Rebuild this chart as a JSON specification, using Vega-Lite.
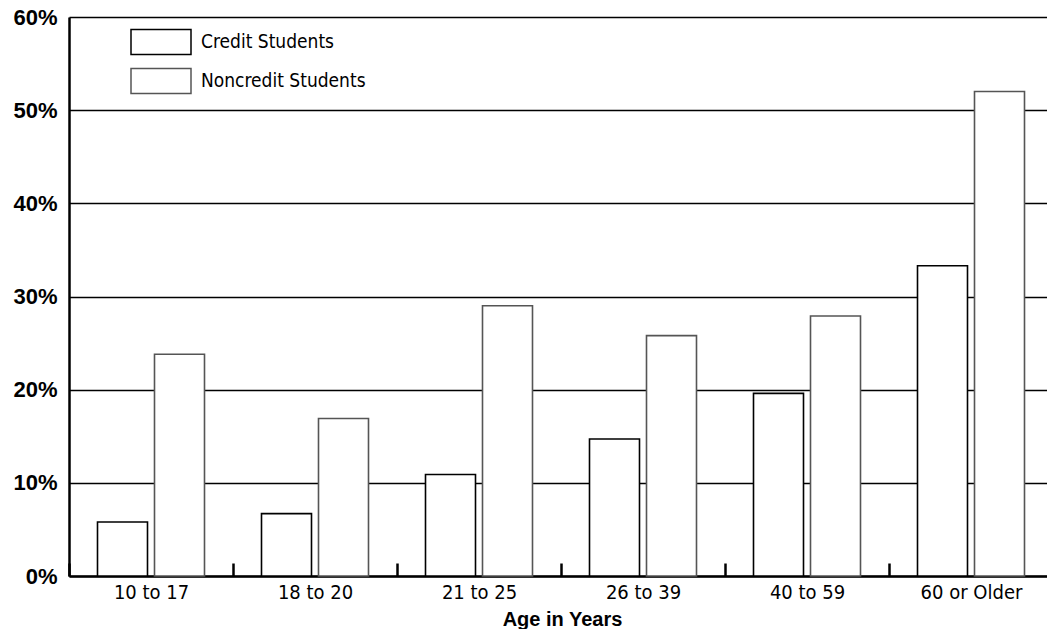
{
  "$schema": "https://vega.github.io/schema/vega-lite/v6.json",
  "width": 978,
  "height": 559,
  "autosize": {"type": "none"},
  "padding": {"left": 69, "top": 17, "right": 0, "bottom": 53},
  "background": "white",
  "data": {
    "values": [
      {"age": "10 to 17", "series": "Credit Students", "pct": 5.8},
      {"age": "10 to 17", "series": "Noncredit Students", "pct": 23.8},
      {"age": "18 to 20", "series": "Credit Students", "pct": 6.7},
      {"age": "18 to 20", "series": "Noncredit Students", "pct": 16.9},
      {"age": "21 to 25", "series": "Credit Students", "pct": 10.9},
      {"age": "21 to 25", "series": "Noncredit Students", "pct": 29.0},
      {"age": "26 to 39", "series": "Credit Students", "pct": 14.7},
      {"age": "26 to 39", "series": "Noncredit Students", "pct": 25.8},
      {"age": "40 to 59", "series": "Credit Students", "pct": 19.6},
      {"age": "40 to 59", "series": "Noncredit Students", "pct": 27.9},
      {"age": "60 or Older", "series": "Credit Students", "pct": 33.3},
      {"age": "60 or Older", "series": "Noncredit Students", "pct": 52.0}
    ]
  },
  "mark": {"type": "bar", "fill": "white", "strokeWidth": 1.6},
  "encoding": {
    "x": {
      "field": "age",
      "type": "nominal",
      "sort": ["10 to 17", "18 to 20", "21 to 25", "26 to 39", "40 to 59", "60 or Older"],
      "scale": {"range": [0, 984], "paddingInner": 0, "paddingOuter": 0},
      "axis": {
        "title": "Age in Years",
        "titleFont": "Liberation Sans",
        "titleFontSize": 20,
        "titleFontWeight": "bold",
        "titleColor": "black",
        "titleX": 493,
        "titlePadding": 7,
        "labelAngle": 0,
        "labelFont": "DejaVu Sans Condensed, DejaVu Sans",
        "labelFontSize": 20,
        "labelColor": "black",
        "labelPadding": 19,
        "labelLimit": 300,
        "domainColor": "black",
        "domainWidth": 2.5,
        "ticks": true,
        "tickBand": "extent",
        "tickSize": -13,
        "tickWidth": 2.5,
        "tickColor": "black",
        "grid": false
      }
    },
    "xOffset": {
      "field": "series",
      "type": "nominal",
      "sort": ["Credit Students", "Noncredit Students"],
      "scale": {"paddingInner": 0.1228, "paddingOuter": 0.5}
    },
    "y": {
      "field": "pct",
      "type": "quantitative",
      "scale": {"domain": [0, 60]},
      "axis": {
        "title": null,
        "values": [0, 10, 20, 30, 40, 50, 60],
        "labelExpr": "datum.value + '%'",
        "labelFont": "Liberation Sans",
        "labelFontSize": 22,
        "labelFontWeight": "bold",
        "labelColor": "black",
        "labelPadding": 12,
        "ticks": false,
        "domainColor": "black",
        "domainWidth": 2.5,
        "grid": true,
        "gridColor": "black",
        "gridWidth": 1.5,
        "gridOpacity": 1
      }
    },
    "stroke": {
      "field": "series",
      "type": "nominal",
      "scale": {"domain": ["Credit Students", "Noncredit Students"], "range": ["#000000", "#555555"]},
      "legend": {
        "orient": "none",
        "legendX": 79,
        "legendY": 12,
        "title": null,
        "padding": 0,
        "symbolType": "M-2.5,-1.05H2.5V1.05H-2.5Z",
        "symbolSize": 576,
        "symbolFillColor": "white",
        "symbolStrokeWidth": 1.5,
        "labelFont": "DejaVu Sans Condensed, DejaVu Sans",
        "labelFontSize": 19,
        "labelColor": "black",
        "labelLimit": 400,
        "labelOffset": 27,
        "rowPadding": 7
      }
    }
  },
  "config": {"view": {"stroke": null}}
}
